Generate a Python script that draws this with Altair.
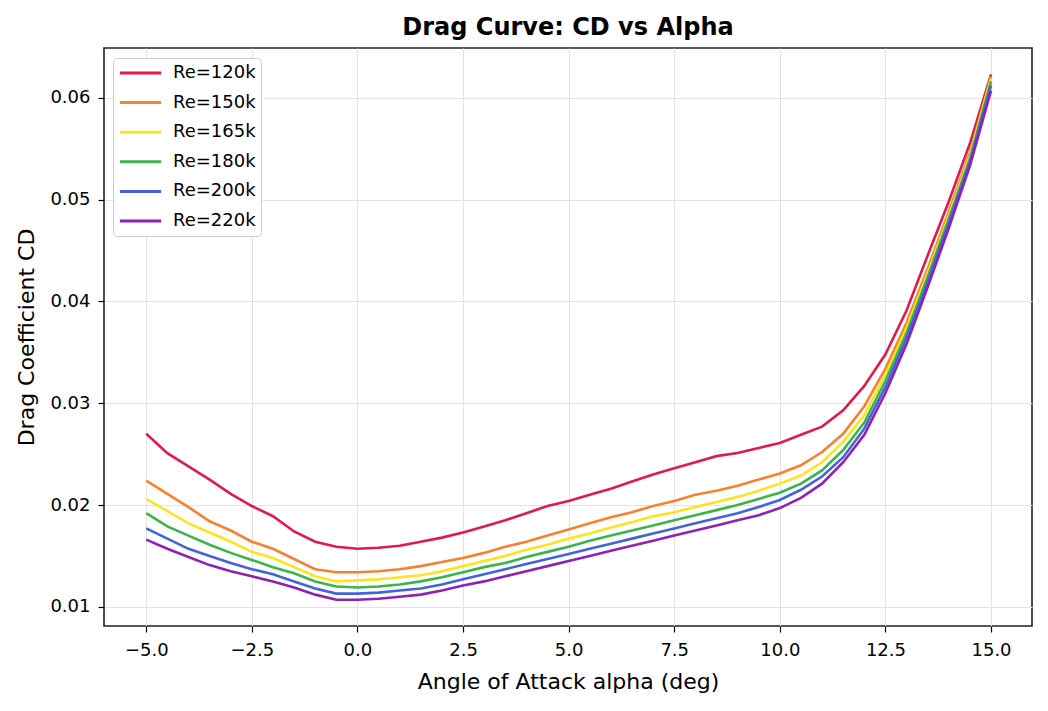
import altair as alt
import pandas as pd

alpha = [-5.0, -4.5, -4.0, -3.5, -3.0, -2.5, -2.0, -1.5, -1.0, -0.5,
         0.0, 0.5, 1.0, 1.5, 2.0, 2.5, 3.0, 3.5, 4.0, 4.5,
         5.0, 5.5, 6.0, 6.5, 7.0, 7.5, 8.0, 8.5, 9.0, 9.5,
         10.0, 10.5, 11.0, 11.5, 12.0, 12.5, 13.0, 13.5, 14.0, 14.5, 15.0]

cd_120k = [0.0270, 0.0251, 0.0238, 0.0225, 0.0211, 0.0199, 0.0189, 0.0174, 0.0164, 0.0159,
           0.0157, 0.0158, 0.0160, 0.0164, 0.0168, 0.0173, 0.0179, 0.0185, 0.0192, 0.0199,
           0.0204, 0.0210, 0.0216, 0.0223, 0.0230, 0.0236, 0.0242, 0.0248, 0.0251, 0.0256,
           0.0261, 0.0269, 0.0277, 0.0293, 0.0317, 0.0348, 0.0391, 0.0445, 0.0498, 0.0555, 0.0623]
cd_150k = [0.0224, 0.0211, 0.0198, 0.0184, 0.0175, 0.0164, 0.0157, 0.0147, 0.0137, 0.0134,
           0.0134, 0.0135, 0.0137, 0.0140, 0.0144, 0.0148, 0.0153, 0.0159, 0.0164, 0.0170,
           0.0176, 0.0182, 0.0188, 0.0193, 0.0199, 0.0204, 0.0210, 0.0214, 0.0219, 0.0225,
           0.0231, 0.0239, 0.0252, 0.0270, 0.0297, 0.0334, 0.0379, 0.0432, 0.0488, 0.0546, 0.0621]
cd_165k = [0.0206, 0.0194, 0.0182, 0.0173, 0.0164, 0.0154, 0.0148, 0.0139, 0.0130, 0.0125,
           0.0126, 0.0127, 0.0129, 0.0131, 0.0135, 0.0140, 0.0145, 0.0150, 0.0156, 0.0161,
           0.0167, 0.0172, 0.0178, 0.0183, 0.0189, 0.0193, 0.0198, 0.0203, 0.0208, 0.0214,
           0.0221, 0.0229, 0.0242, 0.0262, 0.0288, 0.0328, 0.0374, 0.0428, 0.0484, 0.0543, 0.0619]
cd_180k = [0.0192, 0.0179, 0.0170, 0.0161, 0.0153, 0.0146, 0.0139, 0.0133, 0.0125, 0.0120,
           0.0119, 0.0120, 0.0122, 0.0125, 0.0129, 0.0134, 0.0139, 0.0143, 0.0149, 0.0154,
           0.0159, 0.0165, 0.0170, 0.0175, 0.0180, 0.0185, 0.0190, 0.0195, 0.0200, 0.0206,
           0.0212, 0.0221, 0.0234, 0.0254, 0.0281, 0.0322, 0.0369, 0.0424, 0.0481, 0.0540, 0.0616]
cd_200k = [0.0177, 0.0167, 0.0157, 0.0150, 0.0143, 0.0137, 0.0132, 0.0125, 0.0118, 0.0113,
           0.0113, 0.0114, 0.0116, 0.0118, 0.0122, 0.0127, 0.0132, 0.0137, 0.0142, 0.0147,
           0.0152, 0.0157, 0.0162, 0.0167, 0.0172, 0.0177, 0.0182, 0.0187, 0.0192, 0.0198,
           0.0205, 0.0215, 0.0228, 0.0247, 0.0275, 0.0316, 0.0364, 0.0419, 0.0477, 0.0537, 0.0612]
cd_220k = [0.0166, 0.0157, 0.0149, 0.0141, 0.0135, 0.0130, 0.0125, 0.0119, 0.0112, 0.0107,
           0.0107, 0.0108, 0.0110, 0.0112, 0.0116, 0.0121, 0.0125, 0.0130, 0.0135, 0.0140,
           0.0145, 0.0150, 0.0155, 0.0160, 0.0165, 0.0170, 0.0175, 0.0180, 0.0185, 0.0190,
           0.0197, 0.0207, 0.0221, 0.0242, 0.0269, 0.0310, 0.0358, 0.0414, 0.0472, 0.0533, 0.0607]

series_names = ["Re=120k", "Re=150k", "Re=165k", "Re=180k", "Re=200k", "Re=220k"]
series_values = [cd_120k, cd_150k, cd_165k, cd_180k, cd_200k, cd_220k]
colors = ["#dc1c4b", "#f58231", "#fde423", "#3cb44b", "#4363d8", "#8e22b4"]

rows = []
for name, vals in zip(series_names, series_values):
    for a, v in zip(alpha, vals):
        rows.append({"alpha": a, "cd": v, "series": name})
df = pd.DataFrame(rows)

FONT = "DejaVu Sans"

chart = alt.Chart(df).mark_line(strokeWidth=2.6, clip=True).encode(
    x=alt.X("alpha:Q",
            scale=alt.Scale(domain=[-6.0, 15.97], nice=False, zero=False),
            axis=alt.Axis(title="Angle of Attack alpha (deg)", values=[-5, -2.5, 0, 2.5, 5, 7.5, 10, 12.5, 15],
                          format=".1f")),
    y=alt.Y("cd:Q",
            scale=alt.Scale(domain=[0.00812, 0.06488], nice=False, zero=False),
            axis=alt.Axis(title="Drag Coefficient CD", values=[0.01, 0.02, 0.03, 0.04, 0.05, 0.06],
                          format=".2f")),
    color=alt.Color("series:N",
                    scale=alt.Scale(domain=series_names, range=colors),
                    legend=alt.Legend(title=None, orient="none", legendX=9, legendY=10,
                                      symbolType="stroke", symbolSize=1700, symbolStrokeWidth=3,
                                      labelFontSize=18, labelFont=FONT, labelColor="black", labelOffset=10,
                                      clipHeight=20, rowPadding=9.6, padding=5,
                                      fillColor="white", strokeColor="#cccccc", cornerRadius=4)),
    detail="series:N",
).properties(
    width=928,
    height=578,
    title=alt.TitleParams("Drag Curve: CD vs Alpha", fontSize=24, font=FONT, fontWeight="bold",
                          color="black", offset=8, anchor="middle"),
    autosize=alt.AutoSizeParams(type="none"),
    padding={"left": 96, "top": 40, "right": 8, "bottom": 69},
).configure_view(
    stroke="#222222", strokeWidth=1.6
).configure_axis(
    labelFont=FONT, titleFont=FONT, labelFontSize=18, titleFontSize=22,
    labelColor="black", titleColor="black", titleFontWeight="normal",
    domain=False, tickColor="black", tickSize=6, tickWidth=1.2,
    gridColor="#e3e3e3", gridWidth=1,
).configure_axisX(
    labelPadding=9, titlePadding=12,
).configure_axisY(
    labelPadding=8, titlePadding=11,
)

chart.save("out.html", embed_options={"renderer": "svg", "actions": False})
